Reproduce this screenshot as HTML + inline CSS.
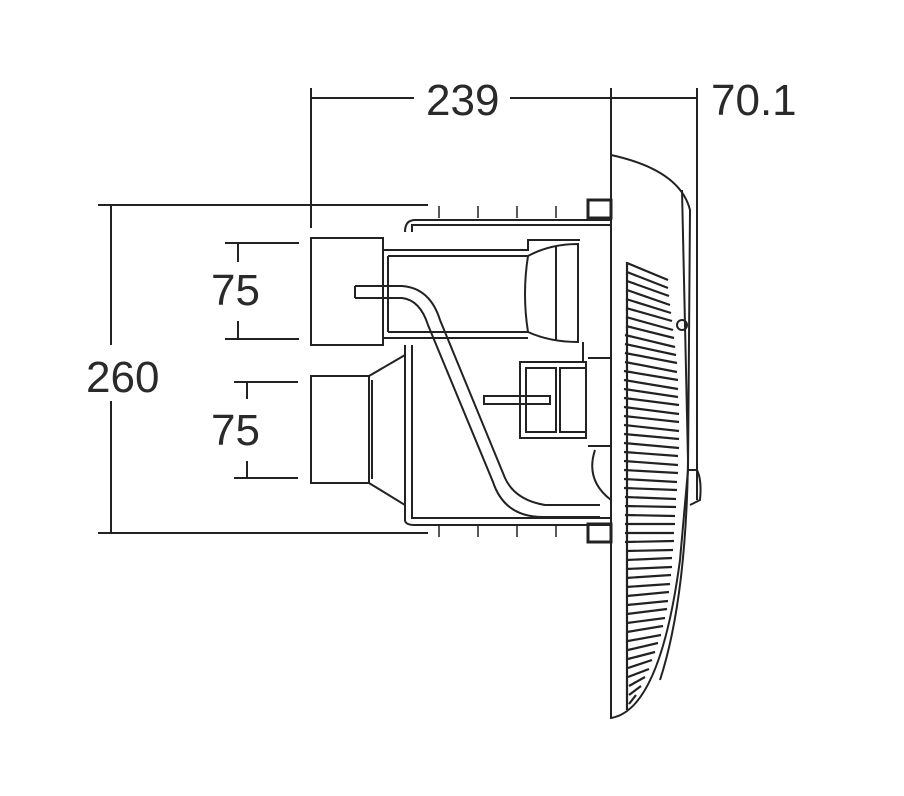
<!DOCTYPE html>
<html><head><meta charset="utf-8"><style>
html,body{margin:0;padding:0;background:#fff;}
svg{display:block}
text{font-family:"Liberation Sans",sans-serif;font-size:44px;fill:#2a2a2a;}
</style></head><body>
<svg width="904" height="796" viewBox="0 0 904 796" xmlns="http://www.w3.org/2000/svg">
<g stroke="#222" stroke-width="2" fill="none">
<line x1="311" y1="98" x2="414" y2="98"/>
<line x1="510" y1="98" x2="697" y2="98"/>
<line x1="311" y1="88" x2="311" y2="228"/>
<line x1="611" y1="88" x2="611" y2="160"/>
<line x1="697" y1="88" x2="697" y2="500"/>
<line x1="98" y1="205" x2="428" y2="205"/>
<line x1="98" y1="533" x2="428" y2="533"/>
<line x1="111" y1="205" x2="111" y2="345"/>
<line x1="111" y1="401" x2="111" y2="533"/>
<line x1="225" y1="243" x2="299" y2="243"/>
<line x1="225" y1="339" x2="299" y2="339"/>
<line x1="238" y1="243" x2="238" y2="262"/>
<line x1="238" y1="321" x2="238" y2="339"/>
<line x1="234" y1="382" x2="298" y2="382"/>
<line x1="234" y1="478" x2="298" y2="478"/>
<line x1="247" y1="382" x2="247" y2="399"/>
<line x1="247" y1="461" x2="247" y2="478"/>
<rect x="311" y="238" width="72" height="107"/>
<rect x="311" y="376" width="58" height="107"/>
<path d="M369 376 L405 355 L405 345 M369 483 L405 505 L405 520"/>
<line x1="372" y1="380" x2="372" y2="479"/>
<path d="M405 232 Q405 220 415 220 L611 220"/>
<path d="M412 232 L412 225 L611 225"/>
<path d="M405 345 L405 520 Q405 525 415 525 L611 525"/>
<path d="M412 345 L412 518 L611 518"/>
<path d="M383 250 L528 250 L528 240 L580 240 M383 338 L528 338 M388 256 L528 256 M388 332 L528 332"/>
<path d="M388 256 L388 332"/>
<g stroke-width="1.5">
<path d="M439 206 L439 218 M478 206 L478 218 M517 206 L517 218 M556 206 L556 218"/>
<path d="M439 525 L439 537 M478 525 L478 537 M517 525 L517 537 M556 525 L556 537"/>
</g>
<path d="M528 256 Q522 294 528 332 M528 256 Q550 244 578 244 L578 342 Q550 342 528 332"/>
<line x1="556" y1="246" x2="556" y2="340"/>
<path d="M355 286 L402 286 Q430 288 440 320 L505 478 Q515 500 545 505 L600 505"/>
<path d="M355 298 L402 298 Q420 300 428 325 L493 482 Q505 518 545 517 L600 517"/>
<line x1="355" y1="286" x2="355" y2="298"/>
<rect x="520" y="362" width="66" height="76"/>
<rect x="526" y="368" width="30" height="64"/>
<rect x="560" y="368" width="26" height="64"/>
<rect x="484" y="396" width="66" height="8"/>
<path d="M588 358 L611 358 M588 446 L611 446 M583 342 L583 362 M595 450 Q585 480 611 500"/>
<rect x="588" y="200" width="23" height="18" stroke-width="3"/>
<rect x="588" y="524" width="23" height="18" stroke-width="3"/>
<path d="M611 155 L611 718 Q660 710 680 560 L688 470 L690 210 Q680 170 611 155 Z"/>
<path d="M682 190 L688 460 Q686 600 660 680"/>
<circle cx="682" cy="325" r="5"/>
<path d="M688 470 L697 470 Q702 480 700 500 L690 505"/>
</g>
<g stroke="#222" stroke-width="2.2">
<line x1="627" y1="263" x2="668" y2="280"/>
<line x1="627" y1="272" x2="668" y2="288"/>
<line x1="627" y1="281" x2="669" y2="296"/>
<line x1="627" y1="290" x2="670" y2="305"/>
<line x1="626" y1="299" x2="671" y2="313"/>
<line x1="626" y1="308" x2="672" y2="321"/>
<line x1="626" y1="317" x2="673" y2="330"/>
<line x1="626" y1="326" x2="674" y2="338"/>
<line x1="625" y1="335" x2="675" y2="347"/>
<line x1="625" y1="344" x2="676" y2="355"/>
<line x1="625" y1="353" x2="677" y2="363"/>
<line x1="625" y1="362" x2="677" y2="372"/>
<line x1="624" y1="371" x2="678" y2="380"/>
<line x1="624" y1="380" x2="678" y2="389"/>
<line x1="624" y1="389" x2="678" y2="397"/>
<line x1="624" y1="398" x2="679" y2="405"/>
<line x1="624" y1="407" x2="679" y2="414"/>
<line x1="624" y1="416" x2="679" y2="422"/>
<line x1="624" y1="425" x2="679" y2="431"/>
<line x1="624" y1="434" x2="679" y2="439"/>
<line x1="624" y1="443" x2="679" y2="448"/>
<line x1="624" y1="452" x2="678" y2="456"/>
<line x1="624" y1="461" x2="678" y2="465"/>
<line x1="624" y1="470" x2="678" y2="473"/>
<line x1="624" y1="479" x2="677" y2="482"/>
<line x1="624" y1="488" x2="677" y2="490"/>
<line x1="625" y1="497" x2="676" y2="499"/>
<line x1="625" y1="506" x2="676" y2="507"/>
<line x1="625" y1="515" x2="675" y2="516"/>
<line x1="625" y1="524" x2="675" y2="524"/>
<line x1="625" y1="533" x2="674" y2="533"/>
<line x1="625" y1="542" x2="674" y2="541"/>
<line x1="626" y1="551" x2="673" y2="550"/>
<line x1="626" y1="560" x2="672" y2="558"/>
<line x1="626" y1="569" x2="672" y2="567"/>
<line x1="626" y1="578" x2="671" y2="575"/>
<line x1="626" y1="587" x2="670" y2="584"/>
<line x1="627" y1="596" x2="669" y2="592"/>
<line x1="627" y1="605" x2="668" y2="601"/>
<line x1="627" y1="614" x2="667" y2="609"/>
<line x1="627" y1="623" x2="665" y2="618"/>
<line x1="627" y1="632" x2="663" y2="626"/>
<line x1="628" y1="641" x2="661" y2="635"/>
<line x1="628" y1="650" x2="658" y2="643"/>
<line x1="628" y1="659" x2="655" y2="652"/>
<line x1="628" y1="668" x2="652" y2="660"/>
<line x1="628" y1="677" x2="649" y2="669"/>
<line x1="629" y1="686" x2="645" y2="677"/>
<line x1="629" y1="695" x2="641" y2="686"/>
<line x1="629" y1="704" x2="636" y2="695"/>
<line x1="627" y1="262" x2="627" y2="710"/>
</g>
<text x="426" y="115">239</text>
<text x="711" y="115">70.1</text>
<text x="86" y="392">260</text>
<text x="211" y="305">75</text>
<text x="211" y="445">75</text>
</svg>
</body></html>
